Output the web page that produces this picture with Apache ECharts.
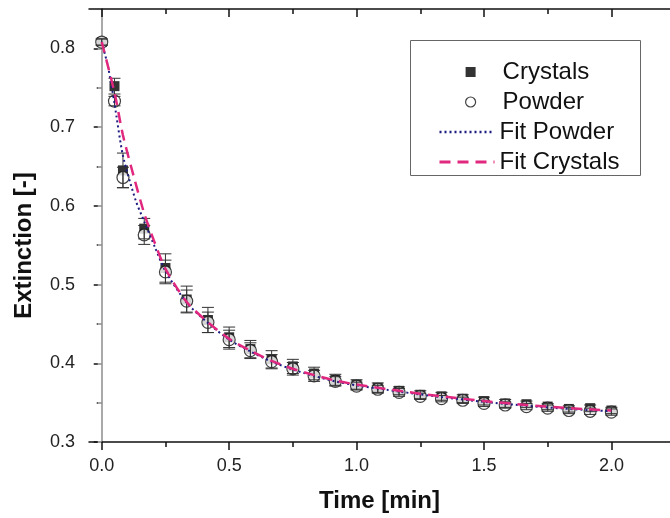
<!DOCTYPE html>
<html>
<head>
<meta charset="utf-8">
<script src="https://cdn.jsdelivr.net/npm/echarts@6/dist/echarts.min.js"></script>
<style>
  html, body { margin: 0; padding: 0; background: #fff; }
  #chart { width: 670px; height: 518px; }
</style>
</head>
<body>
<div id="chart"></div>
<script>
// Sampling times (min)
const timeMin = [0, 0.05, 0.0833, 0.1667, 0.25, 0.3333, 0.4167, 0.5, 0.5833, 0.6667, 0.75, 0.8333, 0.9167,
  1.0, 1.0833, 1.1667, 1.25, 1.3333, 1.4167, 1.5, 1.5833, 1.6667, 1.75, 1.8333, 1.9167, 2.0];

// Measured extinction
const crystals = [0.808, 0.752, 0.645, 0.571, 0.521, 0.481, 0.455, 0.433, 0.418, 0.405, 0.396, 0.387, 0.379,
  0.373, 0.369, 0.365, 0.360, 0.358, 0.355, 0.352, 0.349, 0.348, 0.345, 0.342, 0.343, 0.340];
const powder = [0.808, 0.733, 0.636, 0.563, 0.516, 0.479, 0.452, 0.430, 0.416, 0.402, 0.393, 0.384, 0.377,
  0.371, 0.367, 0.363, 0.358, 0.355, 0.353, 0.349, 0.347, 0.345, 0.343, 0.340, 0.339, 0.338];

// Standard deviations
const crystalsErr = [0.004, 0.010, 0.022, 0.013, 0.018, 0.017, 0.016, 0.013, 0.011, 0.011, 0.009, 0.008, 0.007,
  0.006, 0.006, 0.005, 0.005, 0.005, 0.005, 0.005, 0.005, 0.004, 0.004, 0.004, 0.004, 0.004];
const powderErr = [0.004, 0.006, 0.013, 0.012, 0.015, 0.014, 0.013, 0.012, 0.010, 0.009, 0.008, 0.007, 0.006,
  0.005, 0.005, 0.005, 0.004, 0.004, 0.004, 0.004, 0.004, 0.004, 0.004, 0.004, 0.004, 0.004];

// Fitted decay curves
const fitCrystalsT = [0, 0.05, 0.083, 0.125, 0.167, 0.208, 0.25, 0.333, 0.417, 0.5, 0.583, 0.667, 0.75, 0.833,
  0.917, 1.0, 1.167, 1.333, 1.5, 1.667, 1.833, 2.0];
const fitCrystalsV = [0.808, 0.744, 0.690, 0.638, 0.590, 0.553, 0.520, 0.478, 0.452, 0.431, 0.416, 0.403, 0.393,
  0.385, 0.378, 0.373, 0.365, 0.358, 0.352, 0.347, 0.343, 0.340];
const fitPowderT = [0, 0.025, 0.05, 0.083, 0.133, 0.167, 0.208, 0.25, 0.333, 0.417, 0.5, 0.583, 0.667, 0.75,
  0.833, 0.917, 1.0, 1.167, 1.333, 1.5, 1.667, 1.833, 2.0];
const fitPowderV = [0.808, 0.776, 0.730, 0.664, 0.607, 0.580, 0.548, 0.517, 0.477, 0.451, 0.430, 0.415, 0.402,
  0.392, 0.384, 0.377, 0.372, 0.364, 0.357, 0.351, 0.346, 0.342, 0.339];

// Axis ticks
const xMajorTicks = [0, 0.5, 1.0, 1.5, 2.0];
const xMinorTicks = [0.25, 0.75, 1.25, 1.75];
const yMajorTicks = [0.3, 0.4, 0.5, 0.6, 0.7, 0.8];
const yMinorTicks = [0.35, 0.45, 0.55, 0.65, 0.75];

const legendNames = ['Crystals', 'Powder', 'Fit Powder', 'Fit Crystals'];

const X_MIN = -0.05, X_MAX = 2.23, Y_MIN = 0.3, Y_MAX = 0.85;
const FONT = '"Liberation Sans", Arial, sans-serif';

const pairs = (xs, ys) => xs.map((x, i) => [x, ys[i]]);
const errRows = (ys, es) => timeMin.map((t, i) => [t, ys[i] - es[i], ys[i] + es[i]]);

function errorBar(params, api) {
  const x = api.value(0);
  const lo = api.coord([x, api.value(1)]);
  const hi = api.coord([x, api.value(2)]);
  const half = 6;
  const style = { stroke: '#333', lineWidth: 1 };
  return {
    type: 'group',
    children: [
      { type: 'line', shape: { x1: lo[0], y1: lo[1], x2: hi[0], y2: hi[1] }, style },
      { type: 'line', shape: { x1: lo[0] - half, y1: lo[1], x2: lo[0] + half, y2: lo[1] }, style },
      { type: 'line', shape: { x1: hi[0] - half, y1: hi[1], x2: hi[0] + half, y2: hi[1] }, style }
    ]
  };
}

function xAxisDef(position, ticks, len, inside, withLine, withLabels) {
  return {
    type: 'value', gridIndex: 0, position, min: X_MIN, max: X_MAX,
    splitLine: { show: false },
    axisLine: { show: withLine, lineStyle: { color: '#111', width: 1.5 } },
    axisTick: { show: true, inside, length: len, customValues: ticks, lineStyle: { color: '#111', width: 1.5 } },
    axisLabel: withLabels ? {
      show: true, customValues: ticks, margin: 15, color: '#222', fontSize: 18, fontFamily: FONT,
      formatter: v => v.toFixed(1)
    } : { show: false }
  };
}

function yAxisDef(position, ticks, len, inside, withLine, withLabels, color) {
  return {
    type: 'value', gridIndex: 0, position, min: Y_MIN, max: Y_MAX,
    splitLine: { show: false },
    axisLine: { show: withLine, lineStyle: { color: color, width: 1.5 } },
    axisTick: { show: true, inside, length: len, customValues: ticks, lineStyle: { color: color, width: 1.5 } },
    axisLabel: withLabels ? {
      show: true, customValues: ticks, margin: 14, color: '#222', fontSize: 18, fontFamily: FONT,
      formatter: v => v.toFixed(1)
    } : { show: false }
  };
}

const xAxes = [
  Object.assign(xAxisDef('bottom', xMajorTicks, 8, false, true, true), {
    name: 'Time [min]', nameLocation: 'middle', nameGap: 47,
    nameTextStyle: { fontSize: 24, fontWeight: 'bold', color: '#111', fontFamily: FONT }
  }),
  xAxisDef('bottom', xMinorTicks, 5, false, false, false),
  xAxisDef('top', xMajorTicks, 8, true, true, false),
  xAxisDef('top', xMinorTicks, 5, true, false, false)
];

const yAxes = [
  Object.assign(yAxisDef('left', yMajorTicks, 8, false, true, true, '#111'), {
    name: 'Extinction [-]', nameLocation: 'middle', nameGap: 53, nameRotate: 90,
    nameTextStyle: { fontSize: 24, fontWeight: 'bold', color: '#111', fontFamily: FONT, padding: [0, 40, 0, 0] }
  }),
  yAxisDef('left', yMinorTicks, 5, false, false, false, '#111'),
  yAxisDef('right', yMajorTicks.concat(yMinorTicks), 4, true, true, false, '#c8c8c8')
];

const legendText = { fontSize: 24, color: '#111', fontFamily: FONT, lineHeight: 24 };

const chart = echarts.init(document.getElementById('chart'), null, { renderer: 'canvas' });

chart.setOption({
  animation: false,
  backgroundColor: '#fff',
  grid: { left: 89, right: -3, top: 9, bottom: 74, containLabel: false },
  xAxis: xAxes,
  yAxis: yAxes,
  legend: [
    {
      // marker entries
      orient: 'vertical', left: 460, top: 55,
      itemWidth: 10, itemHeight: 10, itemGap: 6,
      textStyle: Object.assign({ padding: [0, 0, 0, 22] }, legendText),
      data: [
        { name: legendNames[0], icon: 'rect', itemStyle: { color: '#000' } },
        { name: legendNames[1], icon: 'circle', itemStyle: { color: '#fff', borderColor: '#111', borderWidth: 1.2 } }
      ]
    },
    {
      // fitted-curve entries
      orient: 'vertical', left: 433, top: 115,
      itemWidth: 55, itemHeight: 12, itemGap: 6,
      textStyle: legendText,
      lineStyle: { width: 2.5 },
      data: [
        { name: legendNames[2], itemStyle: { opacity: 0 } },
        { name: legendNames[3], itemStyle: { opacity: 0 }, lineStyle: { width: 3 } }
      ]
    }
  ],
  graphic: [{
    type: 'rect', left: 408, top: 38, z: 100,
    shape: { width: 230, height: 135 },
    style: { fill: 'none', stroke: '#666', lineWidth: 1 }
  }],
  series: [
    {
      name: legendNames[0], type: 'scatter', symbol: 'rect', symbolSize: 10, z: 2,
      itemStyle: { color: '#000' },
      data: pairs(timeMin, crystals)
    },
    {
      name: legendNames[1], type: 'scatter', symbol: 'circle', symbolSize: 12, z: 3,
      itemStyle: { color: '#fff', borderColor: '#111', borderWidth: 1.2 },
      data: pairs(timeMin, powder)
    },
    {
      name: 'crystals-sd', type: 'custom', z: 4, renderItem: errorBar,
      encode: { x: 0, y: [1, 2] }, data: errRows(crystals, crystalsErr), silent: true
    },
    {
      name: 'powder-sd', type: 'custom', z: 4, renderItem: errorBar,
      encode: { x: 0, y: [1, 2] }, data: errRows(powder, powderErr), silent: true
    },
    {
      name: legendNames[2], type: 'line', showSymbol: false, symbol: 'none', smooth: 0.25, z: 5,
      lineStyle: { color: '#1c1c80', width: 2, type: [2, 3] },
      itemStyle: { color: '#1c1c80' },
      data: pairs(fitPowderT, fitPowderV)
    },
    {
      name: legendNames[3], type: 'line', showSymbol: false, symbol: 'none', smooth: 0.25, z: 6,
      lineStyle: { color: '#e0287e', width: 2.5, type: [11, 7] },
      itemStyle: { color: '#e0287e' },
      data: pairs(fitCrystalsT, fitCrystalsV)
    }
  ]
});
</script>
</body>
</html>
